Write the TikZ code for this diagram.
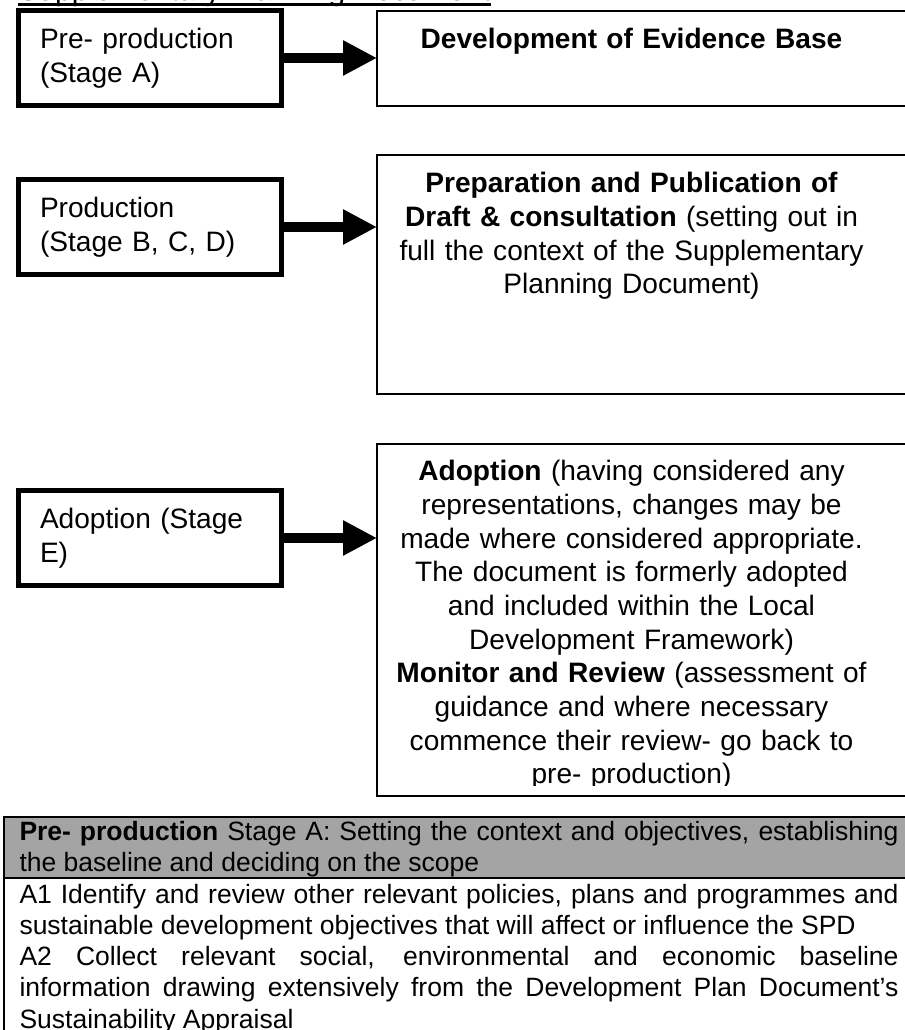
\documentclass[tikz,border=0pt]{standalone}
\usepackage{fontspec}
\setmainfont{Liberation Sans}
\usetikzlibrary{arrows.meta}
\usetikzlibrary{math}

\newcommand{\boxfont}{\fontsize{11.24pt}{13.45pt}\selectfont}
\newcommand{\tablefont}{\fontsize{10.6pt}{12.5pt}\selectfont}
\definecolor{headgray}{RGB}{164,164,164}

\tikzset{
  stagebox/.style={draw, line width=2pt, text width=88pt, inner xsep=8.6pt, inner ysep=0pt,
    minimum height=38pt, align=left, font=\boxfont},
  detailbox/.style={draw, line width=0.8pt, outer sep=0pt, inner sep=0pt,
    minimum width=217.2pt, anchor=north west},
  detailtext/.style={text width=200pt, align=center, inner sep=0pt, anchor=base, font=\boxfont},
  bigarrow/.style={line width=4pt, -{Triangle[length=13.6pt,width=13.2pt]}},
  tabletext/.style={text width=351.6pt, align=justify, inner sep=0pt, anchor=base west, font=\tablefont},
}

\begin{document}
\begin{tikzpicture}[x=0.4pt, y=-0.4pt]
      \tikzmath{
        \xText = 631.5;
        \xTab = 19;
      }
      \useasboundingbox (0,0) rectangle (904,1030);

      % heading, cut by the top of the page
      \node[anchor=base west, inner sep=0pt, font={\fontsize{12pt}{14pt}\selectfont}] (title) at (18,1) {Supplementary Planning Document};
      \draw[line width=1pt] ([yshift=-1.4pt]title.base west) -- ([yshift=-1.4pt]title.base east);

      % stages
      \node[stagebox] (preprod) at (150,58) {Pre- production\\(Stage A)};
      \node[stagebox] (prod) at (150,227) {Production\\(Stage B, C, D)};
      \node[stagebox] (adopt) at (150,538) {Adoption (Stage\\E)};

      \node[detailbox, minimum height=38pt] (evid) at (377,11) {};
      \node[detailbox, minimum height=95.6pt] (draft) at (377,155) {};
      \node[detailbox, minimum height=140.8pt] (review) at (377,444) {};

      \node[detailtext] (evidtext) at (\xText,49) {\textbf{Development of Evidence Base}};
      \node[detailtext] (drafttext) at (\xText,193) {\textbf{Preparation and Publication of}\\
        \textbf{Draft \& consultation} (setting out in\\full the context of the Supplementary\\Planning Document)};
      \begin{scope}
        \clip (377,444) rectangle (920,785);
        \node[detailtext] (reviewtext) at (\xText,481) {\textbf{Adoption} (having considered any\\
          representations, changes may be\\made where considered appropriate.\\
          The document is formerly adopted\\and included within the Local\\Development Framework)\\
          \textbf{Monitor and Review} (assessment of\\guidance and where necessary\\
          commence their review- go back to\\pre- production)};
      \end{scope}

      \draw[bigarrow] (preprod.east) -- (preprod.east -| evid.west);
      \draw[bigarrow] (prod.east) -- (prod.east -| draft.west);
      \draw[bigarrow] (adopt.east) -- (adopt.east -| review.west);

      % stage A table
      \fill[headgray] (4,817) rectangle (915,878);
      \draw[line width=0.8pt] (915,817) -- (4,817) -- (4,1040);
      \draw[line width=0.8pt] (4,878) -- (915,878);
      \node[tabletext] (stagea) at (\xTab,840) {\textbf{Pre- production} Stage A: Setting the context and objectives, establishing\linebreak
        the baseline and deciding on the scope};
      \node[tabletext] (tasks) at (\xTab,903) {A1 Identify and review other relevant policies, plans and programmes and\linebreak
        sustainable development objectives that will affect or influence the SPD\par
        A2 Collect relevant social, environmental and economic baseline\linebreak
        information drawing extensively from the Development Plan Document’s\linebreak
        Sustainability Appraisal};
\end{tikzpicture}
\end{document}
